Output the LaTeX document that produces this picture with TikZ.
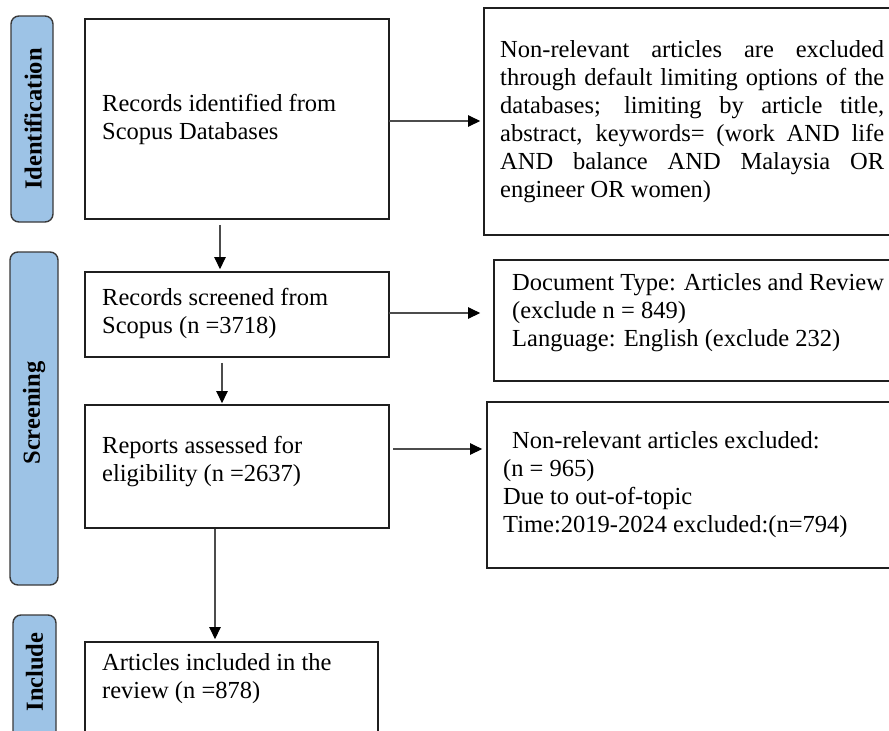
\documentclass[tikz,border=0pt]{standalone}
\usepackage{fontspec}
\setmainfont{Liberation Serif}
\usetikzlibrary{arrows.meta}
\definecolor{lblfill}{HTML}{9DC3E6}
\definecolor{lbldraw}{HTML}{3A3A3A}
\begin{document}
\begin{tikzpicture}[x=1pt,y=-1pt,
  box/.style={draw=black!88, line width=1.8pt, rectangle, inner sep=0pt},
  lbl/.style={draw=lbldraw, fill=lblfill, line width=1.4pt, rounded corners=8pt, inner sep=0pt},
  lbltxt/.style={rotate=90, font=\fontsize{24.5}{28}\selectfont\bfseries, inner sep=0pt},
  txt/.style={font=\fontsize{24.5}{28}\selectfont, align=left, inner sep=0pt, anchor=west},
  arr/.style={draw=black!70, line width=1.1pt, -{Triangle[length=12pt,width=11.5pt,color=black]}},
]
\clip (0,0) rectangle (889,731);
\fill[white] (0,0) rectangle (889,731);

% phase labels
\node[lbl, minimum width=42pt, minimum height=206pt] (l1) at (32,119) {};
\node[lbl, minimum width=48pt, minimum height=333pt] (l2) at (34,418.5) {};
\node[lbl, minimum width=43pt, minimum height=160pt] (l3) at (34.5,695) {};
\node[lbltxt] (lt1) at (33,119) {Identification};
\node[lbltxt] (lt2) at (34,413) {Screening};
\node[lbltxt] (lt3) at (34.5,672) {Include};

% boxes
\node[box, minimum width=304pt, minimum height=200pt] (b1) at (237,119) {};
\node[box, minimum width=420pt, minimum height=227pt] (b2) at (694,121.5) {};
\node[box, minimum width=304pt, minimum height=85pt] (b3) at (237,314.5) {};
\node[box, minimum width=410pt, minimum height=121pt] (b4) at (699,320.5) {};
\node[box, minimum width=304pt, minimum height=123pt] (b5) at (237,466.5) {};
\node[box, minimum width=417pt, minimum height=166pt] (b6) at (695.5,485) {};
\node[box, minimum width=293pt, minimum height=138pt] (b7) at (231.5,711) {};

% texts
\node[txt] (t1) at (102,119) {Records identified from\\Scopus Databases};
\node[txt, text width=384pt, align=justify] (t2) at (500,122) {Non-relevant articles are excluded\linebreak through default limiting options of the\linebreak databases; limiting by article title,\linebreak abstract, keywords= (work AND life\linebreak AND balance AND Malaysia OR\linebreak engineer OR women)};
\node[txt] (t3) at (102,313.5) {Records screened from\\Scopus (n =3718)};
\node[txt] (t4) at (512,313) {Document Type: Articles and Review\\(exclude n = 849)\\Language: English (exclude 232)};
\node[txt] (t5) at (102,461.5) {Reports assessed for\\eligibility (n =2637)};
\node[txt] (t6) at (503,485) {\hspace*{9pt}Non-relevant articles excluded:\\(n = 965)\\Due to out-of-topic\\Time:2019-2024 excluded:(n=794)};
\node[txt] (t7) at (102,678.5) {Articles included in the\\review (n =878)};

% connectors
\coordinate (x1) at (220,0);
\coordinate (x2) at (222,0);
\coordinate (x3) at (215,0);
\coordinate (p1) at (389,121);
\coordinate (p3) at (389,313);
\coordinate (p5) at (393,449);
\draw[arr, shorten >=3pt] (p1) -- (p1 -| b2.west);
\draw[arr, shorten >=13pt] (p3) -- (p3 -| b4.west);
\draw[arr, shorten >=4pt] (p5) -- (p5 -| b6.west);
\draw[arr, shorten <=5pt, shorten >=2pt] (b1.south -| x1) -- (b3.north -| x1);
\draw[arr, shorten <=5pt, shorten >=1pt] (b3.south -| x2) -- (b5.north -| x2);
\draw[arr, shorten >=2pt] (b5.south -| x3) -- (b7.north -| x3);
\end{tikzpicture}
\end{document}
